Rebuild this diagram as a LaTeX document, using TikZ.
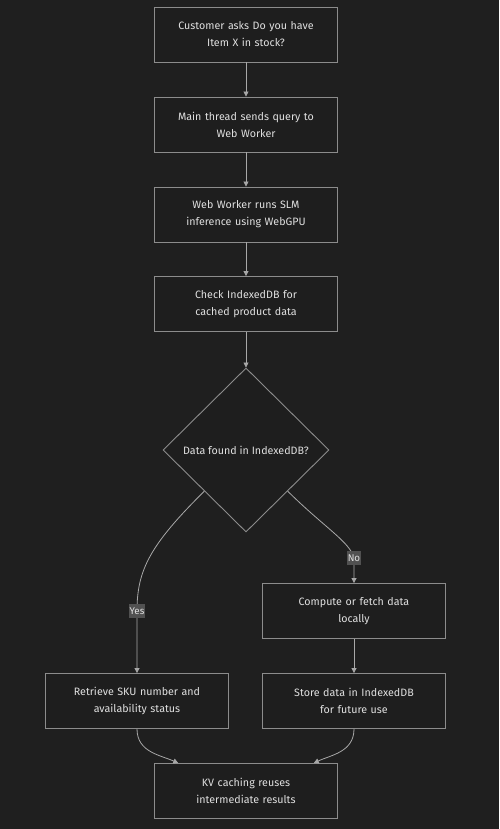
\documentclass[tikz,border=0pt]{standalone}
\usepackage{fontspec}
\setmainfont{Fira Sans}
\usetikzlibrary{shapes.geometric, arrows.meta, positioning, calc}
\definecolor{bgc}{HTML}{1F1F1F}
\definecolor{boxc}{HTML}{1E1E1E}
\definecolor{edgec}{HTML}{8C8C8C}
\definecolor{linec}{HTML}{A8A8A8}
\definecolor{txtc}{HTML}{E0E0E0}
\definecolor{lblc}{HTML}{515151}
\begin{document}
\begin{tikzpicture}[x=1pt, y=-1pt,
  box/.style={draw=edgec, fill=boxc, line width=0.9pt, minimum width=182pt, minimum height=55pt, text width=176pt, align=center, text=txtc, font=\fontsize{10.7}{17}\selectfont},
  decide/.style={diamond, draw=edgec, fill=boxc, line width=0.9pt, minimum width=166pt, minimum height=164pt, inner sep=0pt, align=center, text=txtc, font=\fontsize{10.7}{17}\selectfont},
  flow/.style={draw=linec, line width=0.8pt, -{Triangle[length=5pt, width=5pt]}},
  lbl/.style={fill=lblc, text=txtc, inner xsep=1pt, inner ysep=3.5pt, font=\fontsize{9.8}{11}\selectfont}]
\fill[bgc] (0,0) rectangle (499,829);
% main column
\node[box] (ask) at (246,34.5) {Customer asks Do you have\\Item X in stock?};
\node[box] (send) at (246,124.5) {Main thread sends query to\\Web Worker};
\node[box] (infer) at (246,214.5) {Web Worker runs SLM\\inference using WebGPU};
\node[box] (check) at (246,304) {Check IndexedDB for\\cached product data};
\node[decide] (found) at (246,450) {Data found in IndexedDB?};
% branches
\node[box] (comp) at (354,611) {Compute or fetch data\\locally};
\node[box] (retr) at (137,701) {Retrieve SKU number and\\availability status};
\node[box] (store) at (354,701) {Store data in IndexedDB\\for future use};
\node[box] (kv) at (246,791) {KV caching reuses\\intermediate results};
\draw[flow] (ask) -- (send);
\draw[flow] (send) -- (infer);
\draw[flow] (infer) -- (check);
\draw[flow] (check) -- (found);
\draw[flow] ($(found.west)!0.5!(found.south)$) .. controls (150,545) and (137,570) .. (137,611) node[lbl] {Yes} -- (retr.north);
\draw[flow] ($(found.east)!0.5!(found.south)$) .. controls (325,528) and (350,542) .. (354,558) node[lbl] {No} -- (comp.north);
\draw[flow] (comp) -- (store);
\draw[flow] (retr.south) .. controls (137,752) and (160,755) .. ([xshift=24pt]kv.north west);
\draw[flow] (store.south) .. controls (354,752) and (331,755) .. ([xshift=-24pt]kv.north east);
\end{tikzpicture}
\end{document}
